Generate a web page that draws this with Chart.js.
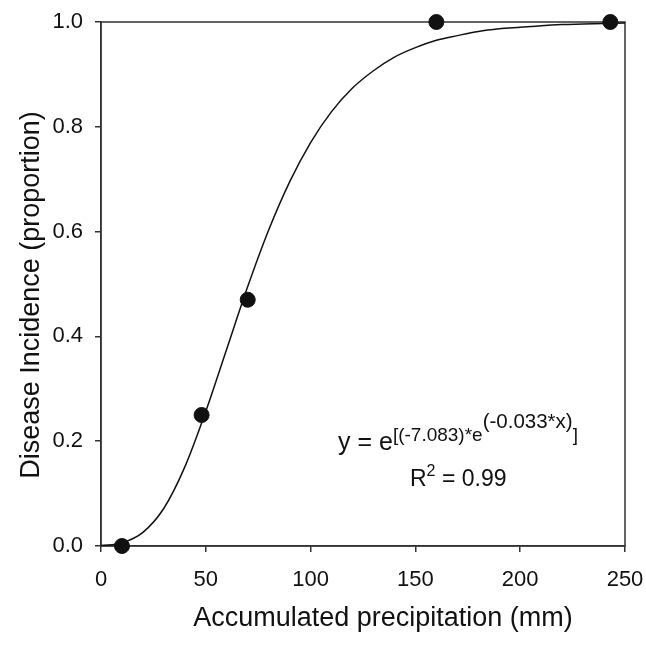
<!DOCTYPE html>
<html>
<head>
<meta charset="utf-8">
<script src="https://cdn.jsdelivr.net/npm/chart.js@4/dist/chart.umd.min.js"></script>
<style>
  html, body { margin: 0; padding: 0; background: #fff; }
  #wrap { width: 646px; height: 646px; }
</style>
</head>
<body>
<div id="wrap"><canvas id="chart"></canvas></div>
<script>
// observed points
const obsX = [10, 48, 70, 160, 243];
const obsY = [0.0, 0.25, 0.47, 1.0, 1.0];

// fitted curve, every 10 mm
const curveX = [0, 10, 20, 30, 40, 50, 60, 70, 80, 90, 100, 110, 120, 130, 140, 150, 160, 170, 180, 190, 200, 210, 220, 230, 240, 250];
const curveY = [0.001, 0.006, 0.026, 0.072, 0.151, 0.257, 0.376, 0.495, 0.603, 0.695, 0.770, 0.829, 0.874, 0.907, 0.933, 0.951, 0.965, 0.974, 0.982, 0.987, 0.990, 0.993, 0.995, 0.996, 0.997, 0.998];

const xTicks = [0, 50, 100, 150, 200, 250];
const yTicks = [0, 0.2, 0.4, 0.6, 0.8, 1.0];

const xTitle = 'Accumulated precipitation (mm)';
const yTitle = 'Disease Incidence (proportion)';

const FONT = "'Liberation Sans', Arial, Helvetica, sans-serif";
const INK = '#333';

// frame round the plot + axis titles + equation
const extras = {
  id: 'extras',
  beforeDatasetsDraw(chart) {
    const { ctx, chartArea: a } = chart;
    ctx.save();
    ctx.strokeStyle = INK;
    ctx.lineWidth = 1.5;
    ctx.strokeRect(a.left, a.top, a.right - a.left, a.bottom - a.top);
    ctx.restore();
  },
  afterDraw(chart) {
    const { ctx } = chart;
    ctx.save();
    ctx.fillStyle = '#111';
    ctx.textBaseline = 'alphabetic';

    ctx.font = '27px ' + FONT;
    ctx.textAlign = 'center';
    ctx.fillText(xTitle, 383, 626);

    ctx.save();
    ctx.translate(39, 295);
    ctx.rotate(-Math.PI / 2);
    ctx.fillText(yTitle, 0, 0);
    ctx.restore();

    // y = e^[(-7.083)*e^(-0.033*x)]
    ctx.textAlign = 'left';
    let x = 338;
    const part = (txt, size, base) => {
      ctx.font = size + 'px ' + FONT;
      ctx.fillText(txt, x, base);
      x += ctx.measureText(txt).width;
    };
    part('y = e', 25, 450);
    part('[(-7.083)*e', 19, 441);
    part('(-0.033*x)', 20.5, 428);
    part(']', 19, 441);

    x = 410;
    part('R', 23, 486);
    part('2', 16, 476);
    part(' = 0.99', 23, 486);
    ctx.restore();
  }
};

new Chart(document.getElementById('chart'), {
  type: 'scatter',
  data: {
    datasets: [
      {
        type: 'line',
        data: curveX.map((v, i) => ({ x: v, y: curveY[i] })),
        borderColor: '#111',
        borderWidth: 1.5,
        pointRadius: 0,
        fill: false,
        cubicInterpolationMode: 'monotone',
        order: 2
      },
      {
        data: obsX.map((v, i) => ({ x: v, y: obsY[i] })),
        backgroundColor: '#111',
        borderColor: '#111',
        pointRadius: 7.5,
        pointHoverRadius: 7.5,
        clip: false,
        order: 1
      }
    ]
  },
  options: {
    responsive: true,
    maintainAspectRatio: false,
    animation: false,
    events: [],
    layout: { padding: { top: 22, right: 21, left: 0, bottom: 0 } },
    plugins: { legend: { display: false }, tooltip: { enabled: false } },
    scales: {
      x: {
        type: 'linear',
        min: 0,
        max: 250,
        afterBuildTicks: (s) => { s.ticks = xTicks.map(v => ({ value: v })); },
        afterFit: (s) => { s.height = 100; s.paddingLeft = 0; s.paddingRight = 0; },
        grid: { drawOnChartArea: false, drawTicks: true, tickLength: 6, color: INK, lineWidth: 1.5 },
        border: { display: true, color: INK, width: 1.5 },
        ticks: { color: '#111', font: { family: FONT, size: 22 }, padding: 15, maxRotation: 0 }
      },
      y: {
        type: 'linear',
        min: 0,
        max: 1,
        afterBuildTicks: (s) => { s.ticks = yTicks.map(v => ({ value: v })); },
        afterFit: (s) => { s.width = 101; s.paddingTop = 0; s.paddingBottom = 0; },
        grid: { drawOnChartArea: false, drawTicks: true, tickLength: 6, color: INK, lineWidth: 1.5 },
        border: { display: true, color: INK, width: 1.5 },
        ticks: { color: '#111', font: { family: FONT, size: 22 }, padding: 12, callback: (v) => v.toFixed(1) }
      }
    }
  },
  plugins: [extras]
});
</script>
</body>
</html>
